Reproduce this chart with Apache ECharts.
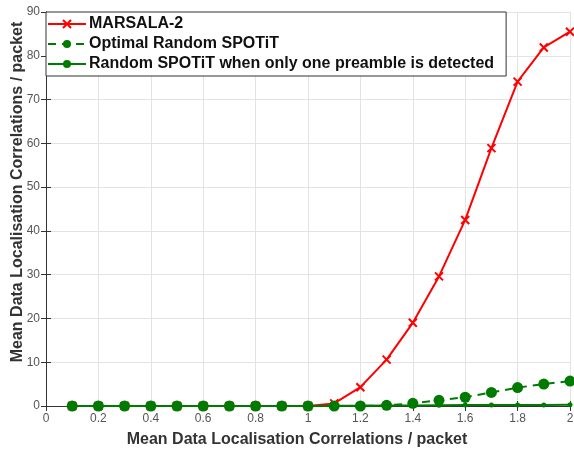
<!DOCTYPE html>
<html>
<head>
<meta charset="utf-8">
<script src="https://cdn.jsdelivr.net/npm/echarts@6/dist/echarts.min.js"></script>
<style>
  html, body { margin: 0; padding: 0; background: #fff; }
  #main { width: 574px; height: 451px; }
</style>
</head>
<body>
<div id="main"></div>
<script>
// x values (mean data localisation correlations / packet)
const xValues = [0.1, 0.2, 0.3, 0.4, 0.5, 0.6, 0.7, 0.8, 0.9, 1.0,
                 1.1, 1.2, 1.3, 1.4, 1.5, 1.6, 1.7, 1.8, 1.9, 2.0];
const marsala = [0, 0, 0, 0, 0, 0, 0, 0, 0, 0,
                 0.6, 4.3, 10.6, 19.0, 29.6, 42.5, 58.9, 74.1, 81.9, 85.5];
const optimalSpotit = [0, 0, 0, 0, 0, 0, 0, 0, 0, 0,
                       0, 0, 0.15, 0.6, 1.3, 2.0, 3.1, 4.2, 5.0, 5.7];
const oneScanSpotit = [0, 0, 0, 0, 0, 0, 0, 0, 0, 0,
                       0.05, 0.05, 0.1, 0.1, 0.15, 0.2, 0.2, 0.25, 0.25, 0.3];
const seriesNames = ['MARSALA-2', 'Optimal Random SPOTiT',
                     'Random SPOTiT when only one preamble is detected'];

function pairs(ys) {
  return xValues.map((x, i) => [x, ys[i]]);
}

const chart = echarts.init(document.getElementById('main'));
const font = 'Liberation Sans, Arial, Helvetica, sans-serif';
const red = '#ff0000';
const green = '#007a00';

const option = {
  animation: false,
  textStyle: { fontFamily: font },
  grid: { left: 46, right: 4, top: 12, bottom: 45, outerBoundsMode: 'none', containLabel: false },
  legend: {
    data: seriesNames,
    orient: 'vertical',
    left: 46,
    top: 12,
    itemWidth: 38,
    itemHeight: 10,
    itemGap: 4,
    padding: [4, 12, 4, 1],
    backgroundColor: '#fff',
    borderColor: '#333',
    borderWidth: 1,
    textStyle: { fontSize: 16, fontWeight: 'bold', color: '#111', fontFamily: font, padding: [0, 0, 0, -2] }
  },
  xAxis: [{
    type: 'value',
    min: 0, max: 2, interval: 0.2,
    name: 'Mean Data Localisation Correlations / packet',
    nameLocation: 'middle',
    nameGap: 26,
    nameMoveOverlap: false,
    nameTextStyle: { fontSize: 16, fontWeight: 'bold', color: '#333', padding: [0, 22, 0, 0] },
    axisLine: { lineStyle: { color: '#333', width: 1 } },
    axisTick: { inside: true, length: 5, lineStyle: { color: '#333' } },
    axisLabel: { fontSize: 12, color: '#555', margin: 7 },
    splitLine: { show: true, lineStyle: { color: '#e3e3e3' } }
  }, {
    type: 'value', position: 'top',
    min: 0, max: 2, interval: 0.2,
    axisLine: { show: true, lineStyle: { color: '#333' } },
    axisTick: { inside: true, length: 5, lineStyle: { color: '#333' } },
    axisLabel: { show: false },
    splitLine: { show: false }
  }],
  yAxis: [{
    type: 'value',
    min: 0, max: 90, interval: 10,
    name: 'Mean Data Localisation Correlations / packet',
    nameLocation: 'middle',
    nameGap: 20,
    nameMoveOverlap: false,
    nameTextStyle: { fontSize: 16, fontWeight: 'bold', color: '#333', padding: [0, 0, 0, 34] },
    axisLine: { show: true, lineStyle: { color: '#333' } },
    axisTick: { show: true, inside: true, length: 5, lineStyle: { color: '#333' } },
    axisLabel: { fontSize: 12, color: '#555', margin: 6 },
    splitLine: { show: true, lineStyle: { color: '#e3e3e3' } }
  }, {
    type: 'value', position: 'right',
    min: 0, max: 90, interval: 10,
    axisLine: { show: true, lineStyle: { color: '#333' } },
    axisTick: { show: true, inside: true, length: 5, lineStyle: { color: '#333' } },
    axisLabel: { show: false },
    splitLine: { show: false }
  }],
  series: [{
    name: seriesNames[0],
    type: 'line',
    data: pairs(marsala),
    symbol: 'path://M0,0L10,10M10,0L0,10',
    symbolSize: 8,
    lineStyle: { color: red, width: 2 },
    itemStyle: { color: red, borderColor: red, borderWidth: 2 },
    z: 2
  }, {
    name: seriesNames[1],
    type: 'line',
    data: pairs(optimalSpotit),
    symbol: 'circle',
    symbolSize: 11,
    lineStyle: { color: green, width: 2, type: [8, 6] },
    itemStyle: { color: green },
    z: 3
  }, {
    name: seriesNames[2],
    type: 'line',
    data: pairs(oneScanSpotit),
    symbol: 'circle',
    symbolSize: 5,
    lineStyle: { color: green, width: 2 },
    itemStyle: { color: green },
    z: 4
  }]
};

chart.setOption(option);
</script>
</body>
</html>
